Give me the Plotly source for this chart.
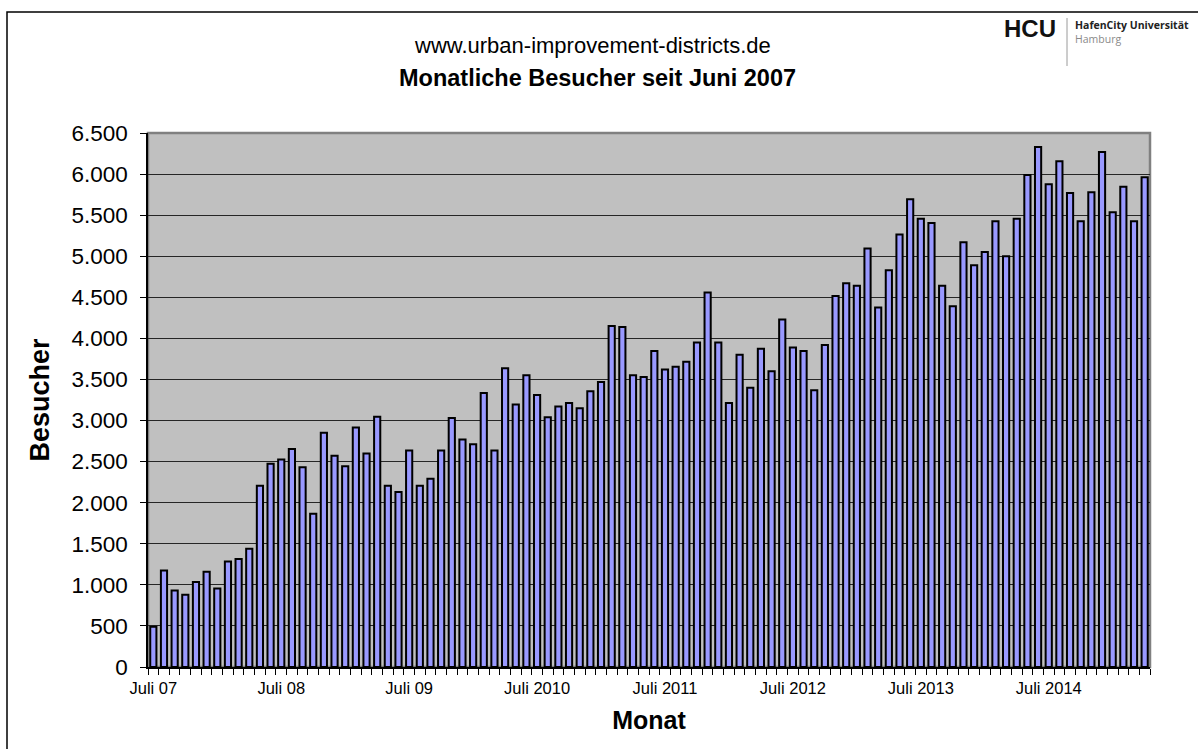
import plotly.graph_objects as go

# ---- data ----
visitors = [
    490, 1175, 930, 880, 1035, 1160, 955, 1285, 1315, 1440, 2205, 2475,
    2525, 2655, 2430, 1865, 2850, 2570, 2445, 2915, 2600, 3045, 2205, 2130,
    2635, 2205, 2290, 2635, 3030, 2770, 2710, 3335, 2635, 3635, 3195, 3550,
    3310, 3040, 3170, 3215, 3150, 3355, 3470, 4150, 4140, 3550, 3530, 3845,
    3620, 3655, 3715, 3950, 4560, 3950, 3215, 3800, 3400, 3875, 3600, 4230,
    3890, 3845, 3370, 3920, 4515, 4670, 4640, 5095, 4375, 4830, 5265, 5695,
    5455, 5405, 4640, 4390, 5170, 4890, 5050, 5425, 5000, 5455, 5990, 6330,
    5875, 6155, 5770, 5425, 5780, 6270, 5535, 5845, 5425, 5960,
]
month_index = list(range(len(visitors)))
tick_positions = [0, 12, 24, 36, 48, 60, 72, 84]
tick_labels = ["Juli 07", "Juli 08", "Juli 09", "Juli 2010", "Juli 2011",
               "Juli 2012", "Juli 2013", "Juli 2014"]
y_ticks = list(range(0, 6501, 500))

W, H = 1198, 749
L, R, T, B = 148, 48, 133, 82
PW, PH = W - L - R, H - T - B


def px(x):
    return (x - L) / PW


def py(y):
    return (H - B - y) / PH


FONT = "Liberation Sans, Arial, sans-serif"

fig = go.Figure(
    go.Bar(
        x=month_index,
        y=visitors,
        marker=dict(color="#9999FF", line=dict(color="black", width=2)),
        hoverinfo="x+y",
    )
)

fig.update_layout(
    width=W,
    height=H,
    margin=dict(l=L, r=R, t=T, b=B, autoexpand=False),
    paper_bgcolor="white",
    plot_bgcolor="#C0C0C0",
    separators=",.",
    bargap=0.42,
    showlegend=False,
    font=dict(family=FONT, color="black"),
)

fig.update_xaxes(
    range=[-0.5, len(visitors) - 0.5],
    tickmode="array",
    tickvals=tick_positions,
    ticktext=tick_labels,
    ticks="",
    ticklabelstandoff=5,
    tickfont=dict(size=16.5, family=FONT),
    showgrid=False,
    zeroline=False,
    showline=True,
    linecolor="black",
    linewidth=1.5,
    minor=dict(tickmode="linear", tick0=-0.5, dtick=1, ticks="outside",
               ticklen=6, tickcolor="black", tickwidth=1.3, showgrid=False),
    title=dict(text="<b>Monat</b>", font=dict(size=25, family=FONT), standoff=16),
)

fig.update_yaxes(
    range=[0, 6500],
    tickmode="array",
    tickvals=y_ticks,
    tickformat=",d",
    ticks="outside",
    ticklen=6,
    tickcolor="black",
    tickwidth=1.3,
    ticklabelstandoff=8,
    tickfont=dict(size=22.5, family=FONT),
    showgrid=True,
    gridcolor="#262626",
    gridwidth=1.2,
    zeroline=False,
    showline=True,
    linecolor="black",
    linewidth=1.5,
    title=dict(text="<b>Besucher</b>", font=dict(size=27, family=FONT), standoff=14),
)

shapes = [
    # plot-area frame (gray)
    dict(type="rect", xref="paper", yref="paper", x0=0, y0=0, x1=1, y1=1,
         line=dict(color="#808080", width=2.5), layer="below"),
    # outer chart frame
    dict(type="rect", xref="paper", yref="paper", x0=px(7), y0=py(H + 5),
         x1=px(W + 5), y1=py(12), line=dict(color="black", width=1.5)),
    # logo divider
    dict(type="line", xref="paper", yref="paper", x0=px(1067), x1=px(1067),
         y0=py(18), y1=py(66), line=dict(color="#9a9a9a", width=1)),
]

annotations = [
    dict(text="www.urban-improvement-districts.de", x=px(592), y=py(46),
         xref="paper", yref="paper", showarrow=False, xanchor="center",
         yanchor="middle", font=dict(size=22, family=FONT, color="black")),
    dict(text="<b>Monatliche Besucher seit Juni 2007</b>", x=px(597), y=py(78),
         xref="paper", yref="paper", showarrow=False, xanchor="center",
         yanchor="middle", font=dict(size=23.5, family=FONT, color="black")),
    dict(text="<b>HCU</b>", x=px(1030), y=py(29), xref="paper", yref="paper",
         showarrow=False, xanchor="center", yanchor="middle",
         font=dict(size=24, family=FONT, color="#111111")),
    dict(text="<b>HafenCity Universität</b><br>"
              "<span style='color:#8a8a8a;font-weight:normal'>Hamburg</span>",
         x=px(1073), y=py(16), xref="paper", yref="paper", showarrow=False,
         xanchor="left", yanchor="top", align="left",
         font=dict(size=10.5, family="Open Sans, sans-serif", color="#222222")),
]

fig.update_layout(shapes=shapes, annotations=annotations)

fig.write_html("out.html",
               config={"displayModeBar": False},
               post_script="document.body.style.margin='0';"
                           "document.body.style.overflow='hidden';")
